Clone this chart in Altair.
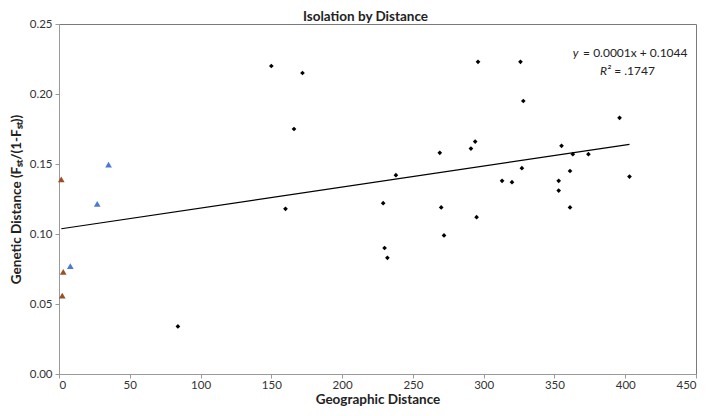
import altair as alt
import pandas as pd

# Black diamonds (main series)
black_x = [84, 150, 172, 166, 160, 229, 230, 232, 238, 269, 270, 272, 291, 294, 296,
           295, 313, 320, 326, 328, 327, 353, 353, 355, 361, 363, 361, 374, 396, 403]
black_y = [0.034, 0.220, 0.215, 0.175, 0.118, 0.122, 0.090, 0.083, 0.142, 0.158, 0.119,
           0.099, 0.161, 0.166, 0.223, 0.112, 0.138, 0.137, 0.223, 0.195, 0.147, 0.138,
           0.131, 0.163, 0.145, 0.157, 0.119, 0.157, 0.183, 0.141]
# Brown triangles
brown_x = [1.6, 3.0, 2.3]
brown_y = [0.139, 0.073, 0.056]
# Blue triangles
blue_x = [8.0, 27.0, 35.0]
blue_y = [0.077, 0.1215, 0.1496]

eq_text = "= 0.0001x + 0.1044"
r2_text = "= .1747"

FONT = "Lato"

df_black = pd.DataFrame({"x": black_x, "y": black_y})
df_brown = pd.DataFrame({"x": brown_x, "y": brown_y})
df_blue = pd.DataFrame({"x": blue_x, "y": blue_y})
df_all = pd.concat([df_black, df_brown, df_blue], ignore_index=True)

xscale = alt.Scale(domain=[0, 450], nice=False, zero=True)
yscale = alt.Scale(domain=[0, 0.25], nice=False)

xenc = alt.X("x:Q", scale=xscale,
             axis=alt.Axis(title="Geographic  Distance", values=list(range(0, 451, 50)),
                           grid=False, format="d"))
yenc = alt.Y("y:Q", scale=yscale,
             axis=alt.Axis(title="Genetic  Distance  (Fₛₜ/(1-Fₛₜ))",
                           values=[0, 0.05, 0.10, 0.15, 0.20, 0.25],
                           grid=False, format=".2f"))

black = alt.Chart(df_black).mark_point(shape="diamond", filled=True, color="black",
                                       size=22, opacity=1).encode(x=xenc, y=yenc)
brown = alt.Chart(df_brown).mark_point(shape="triangle-up", filled=True, color="#9C4F24",
                                       size=45, opacity=1).encode(x="x:Q", y="y:Q")
blue = alt.Chart(df_blue).mark_point(shape="triangle-up", filled=True, color="#4A7BD2",
                                     size=45, opacity=1).encode(x="x:Q", y="y:Q")

trend = alt.Chart(df_all).transform_regression("x", "y").mark_line(
    color="black", strokeWidth=1.2).encode(x="x:Q", y="y:Q")

ann = pd.DataFrame({"x": [444], "y": [0.229]})
eq = alt.Chart(ann).mark_text(align="right", baseline="middle", fontSize=12, font=FONT,
                              color="#222222").encode(x="x:Q", y="y:Q", text=alt.value(eq_text))
eq_y = alt.Chart(ann).mark_text(align="right", baseline="middle", fontSize=12, font=FONT,
                                fontStyle="italic", color="#222222", dx=-109).encode(
    x="x:Q", y="y:Q", text=alt.value("y"))
ann2 = pd.DataFrame({"x": [421], "y": [0.2165]})
r2 = alt.Chart(ann2).mark_text(align="right", baseline="middle", fontSize=12, font=FONT,
                               color="#222222").encode(x="x:Q", y="y:Q", text=alt.value(r2_text))
r2_lab = alt.Chart(ann2).mark_text(align="right", baseline="middle", fontSize=12, font=FONT,
                                   fontStyle="italic", color="#222222", dx=-44).encode(
    x="x:Q", y="y:Q", text=alt.value("R²"))

chart = alt.layer(trend, black, brown, blue, eq, eq_y, r2, r2_lab).properties(
    width=637, height=350,
    title=alt.TitleParams("Isolation by Distance", fontSize=13.5, font=FONT, fontWeight="bold",
                          color="#222222", anchor="middle", offset=-5, dx=-12),
    padding={"left": 1, "top": 1, "right": 2, "bottom": 0},
).configure_view(stroke="#7a7a7a", strokeWidth=1).configure_axis(
    labelFont=FONT, titleFont=FONT, labelFontSize=11.5, titleFontSize=13.5,
    labelColor="#333333", titleColor="#222222", titleFontWeight="bold",
    domainColor="#9a9a9a", tickColor="#9a9a9a", tickSize=4,
).configure_axisY(titlePadding=6, labelPadding=3).configure_axisX(titlePadding=2, labelPadding=1)

chart.save("out.html", embed_options={"renderer": "svg", "actions": False})
